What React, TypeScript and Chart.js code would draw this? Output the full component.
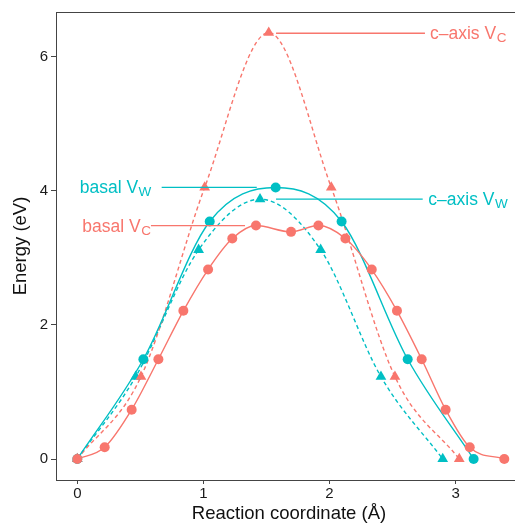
import React, { useEffect, useRef } from "react";
import { Chart, registerables } from "chart.js";

Chart.register(...registerables);

const RED = "#F8766D";
const TEAL = "#00BFC4";
const AXIS = "#444444";
const FONT = "'Liberation Sans', Arial, Helvetica, sans-serif";

// basal V_C (red circles, solid)
const basalVcX = [0, 0.217, 0.431, 0.643, 0.841, 1.037, 1.229, 1.417, 1.695, 1.912, 2.126, 2.335, 2.535, 2.731, 2.921, 3.112, 3.386];
const basalVcY = [0, 0.175, 0.736, 1.488, 2.21, 2.826, 3.288, 3.482, 3.388, 3.482, 3.288, 2.826, 2.21, 1.488, 0.736, 0.175, 0];

// basal V_W (teal circles, solid)
const basalVwX = [0, 0.524, 1.05, 1.573, 2.096, 2.62, 3.143];
const basalVwY = [0, 1.488, 3.542, 4.05, 3.542, 1.488, 0];

// c-axis V_C (red triangles, dashed)
const caxisVcX = [0, 0.505, 1.01, 1.518, 2.014, 2.519, 3.029];
const caxisVcY = [0, 1.228, 4.05, 6.36, 4.05, 1.228, 0];

// c-axis V_W (teal triangles, dashed)
const caxisVwX = [0, 0.463, 0.962, 1.449, 1.93, 2.408, 2.898];
const caxisVwY = [0, 1.228, 3.12, 3.875, 3.12, 1.228, 0];

const xTicks = [0, 1, 2, 3];
const yTicks = [0, 2, 4, 6];
const xRange = [-0.169, 3.471];
const yRange = [-0.313, 6.667];
const xTitle = "Reaction coordinate (Å)";
const yTitle = "Energy (eV)";

// direct labels (data coordinates)
const labelMain = ["c–axis V", "c–axis V", "basal V", "basal V"];
const labelSub = ["C", "W", "W", "C"];
const labelColor = [RED, TEAL, TEAL, RED];
const labelTextX = [2.797, 2.784, 0.019, 0.04];
const labelY = [6.35, 3.876, 4.052, 3.482];
const segStartX = [1.576, 1.576, 0.669, 0.584];
const segEndX = [2.757, 2.739, 1.423, 1.33];

const pts = (xs: number[], ys: number[]) => xs.map((x, i) => ({ x, y: ys[i] }));

const annotPlugin = {
  id: "annot",
  afterDatasetsDraw(chart: any) {
    const { ctx, chartArea } = chart;
    const sx = chart.scales.x;
    const sy = chart.scales.y;
    ctx.save();
    // top frame line
    ctx.strokeStyle = AXIS;
    ctx.lineWidth = 1;
    ctx.beginPath();
    ctx.moveTo(chartArea.left, Math.round(chartArea.top) + 0.5);
    ctx.lineTo(chartArea.right, Math.round(chartArea.top) + 0.5);
    ctx.stroke();

    for (let i = 0; i < labelMain.length; i++) {
      const py = sy.getPixelForValue(labelY[i]);
      ctx.strokeStyle = labelColor[i];
      ctx.lineWidth = 1.3;
      ctx.beginPath();
      ctx.moveTo(sx.getPixelForValue(segStartX[i]), py);
      ctx.lineTo(sx.getPixelForValue(segEndX[i]), py);
      ctx.stroke();
      const tx = sx.getPixelForValue(labelTextX[i]);
      ctx.fillStyle = labelColor[i];
      ctx.textAlign = "left";
      ctx.textBaseline = "alphabetic";
      ctx.font = `17.5px ${FONT}`;
      ctx.fillText(labelMain[i], tx, py + 6);
      const w = ctx.measureText(labelMain[i]).width;
      ctx.font = `13.5px ${FONT}`;
      ctx.fillText(labelSub[i], tx + w + 0.5, py + 9);
    }

    // axis titles
    ctx.fillStyle = "#111";
    ctx.font = `18.5px ${FONT}`;
    ctx.textAlign = "center";
    ctx.textBaseline = "middle";
    ctx.fillText(xTitle, 289, 514);
    ctx.save();
    ctx.translate(21, (chartArea.top + chartArea.bottom) / 2);
    ctx.rotate(-Math.PI / 2);
    ctx.fillText(yTitle, 0, 0);
    ctx.restore();
    ctx.restore();
  },
};

export default function App() {
  const ref = useRef<HTMLCanvasElement | null>(null);
  useEffect(() => {
    if (!ref.current) return;
    const lineDs = (xs: number[], ys: number[], color: string, dashed: boolean, order: number) => ({
      data: pts(xs, ys),
      showLine: true,
      borderColor: color,
      backgroundColor: color,
      borderWidth: 1.4,
      borderDash: dashed ? [4, 3] : [],
      cubicInterpolationMode: "monotone",
      pointRadius: 0,
      order,
    });
    const pointDs = (xs: number[], ys: number[], color: string, style: string, r: number, order: number) => ({
      data: pts(xs, ys),
      showLine: false,
      pointStyle: style,
      pointRadius: r,
      pointBorderWidth: 0,
      borderWidth: 0,
      backgroundColor: color,
      pointBackgroundColor: color,
      borderColor: color,
      order,
    });
    const chart = new Chart(ref.current, {
      type: "scatter",
      data: {
        datasets: [
          pointDs(basalVcX, basalVcY, RED, "circle", 5, 0),
          pointDs(basalVwX, basalVwY, TEAL, "circle", 5, 1),
          pointDs(caxisVcX, caxisVcY, RED, "triangle", 6.2, 2),
          pointDs(caxisVwX, caxisVwY, TEAL, "triangle", 6.2, 3),
          lineDs(basalVcX, basalVcY, RED, false, 4),
          lineDs(basalVwX, basalVwY, TEAL, false, 5),
          lineDs(caxisVcX, caxisVcY, RED, true, 6),
          lineDs(caxisVwX, caxisVwY, TEAL, true, 7),
        ] as any,
      },
      options: {
        responsive: false,
        animation: false,
        events: [],
        layout: { autoPadding: false, padding: { top: 12, right: 0, left: 0, bottom: 0 } },
        plugins: { legend: { display: false }, tooltip: { enabled: false } },
        scales: {
          x: {
            type: "linear",
            min: xRange[0],
            max: xRange[1],
            afterBuildTicks: (s: any) => {
              s.ticks = xTicks.map((v) => ({ value: v }));
            },
            afterFit: (s: any) => {
              s.height = 44;
            },
            ticks: { font: { size: 15, family: FONT }, color: "#1a1a1a", padding: 1, maxRotation: 0 },
            grid: { drawOnChartArea: false, drawTicks: true, tickLength: 4, color: AXIS },
            border: { display: true, color: AXIS, width: 1 },
          },
          y: {
            type: "linear",
            min: yRange[0],
            max: yRange[1],
            afterBuildTicks: (s: any) => {
              s.ticks = yTicks.map((v) => ({ value: v }));
            },
            afterFit: (s: any) => {
              s.width = 56;
            },
            ticks: { font: { size: 15, family: FONT }, color: "#1a1a1a", padding: 3 },
            grid: { drawOnChartArea: false, drawTicks: true, tickLength: 5, color: AXIS },
            border: { display: true, color: AXIS, width: 1 },
          },
        },
      } as any,
      plugins: [annotPlugin],
    });
    return () => chart.destroy();
  }, []);
  return (
    <div style={{ position: "absolute", left: 0, top: 0, width: 515, height: 524, background: "#fff" }}>
      <canvas ref={ref} width={515} height={524} style={{ display: "block" }} />
    </div>
  );
}
